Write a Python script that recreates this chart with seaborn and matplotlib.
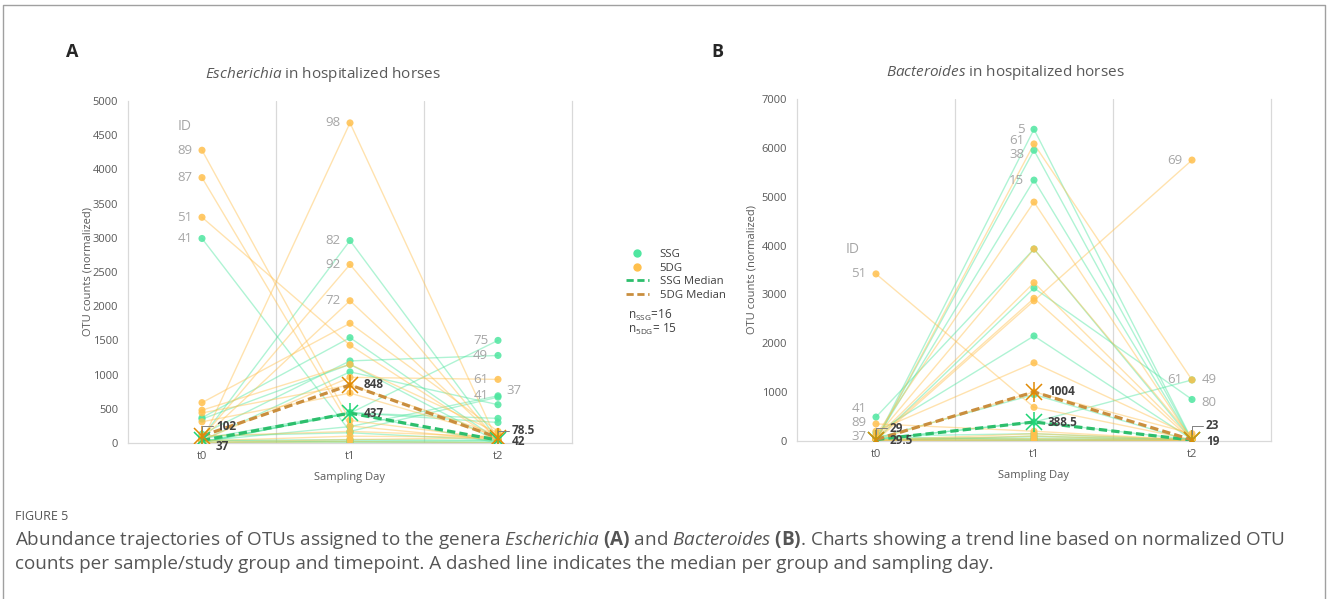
import numpy as np
import pandas as pd
import matplotlib
matplotlib.use("Agg")
import matplotlib.pyplot as plt
import seaborn as sns
from matplotlib.lines import Line2D

# ---- data ----
days = ["t0", "t1", "t2"]
groups = ["SSG", "5DG"]

# Escherichia, SSG horses
esch_ssg_ids = ["41", "82", "75", "49", "37", "", "", "", "", "", "", "", "", "", "", ""]
esch_ssg_t0 = [2990, 80, 20, 130, 30, 370, 350, 36, 10, 60, 5, 100, 37, 0, 15, 37]
esch_ssg_t1 = [170, 2960, 436, 1200, 240, 1540, 1150, 1040, 440, 445, 438, 150, 50, 30, 10, 20]
esch_ssg_t2 = [670, 43, 1500, 1280, 690, 41, 20, 560, 360, 300, 0, 40, 38, 30, 10, 5]

# Escherichia, 5DG horses
esch_dg_ids = ["89", "87", "51", "98", "92", "72", "61", "", "", "", "", "", "", "", ""]
esch_dg_t0 = [4280, 3880, 3300, 20, 80, 60, 40, 590, 480, 440, 310, 102, 30, 10, 0]
esch_dg_t1 = [330, 250, 1430, 4680, 2610, 2080, 960, 1750, 1150, 848, 730, 170, 100, 50, 20]
esch_dg_t2 = [60, 40, 30, 10, 20, 50, 930, 170, 150, 120, 100, 90, 85, 78.5, 5]

# Bacteroides, SSG horses
bact_ssg_ids = ["5", "38", "15", "41", "80", "37", "", "", "49", "", "", "", "", "", "", ""]
bact_ssg_t0 = [10, 0, 30, 490, 20, 170, 60, 29, 40, 100, 5, 50, 80, 15, 25, 28]
bact_ssg_t1 = [6380, 5950, 5340, 3930, 3130, 2150, 950, 390, 387, 150, 100, 60, 30, 20, 10, 5]
bact_ssg_t2 = [20, 10, 5, 17, 850, 30, 0, 25, 1250, 18, 22, 40, 8, 12, 35, 2]

# Bacteroides, 5DG horses
bact_dg_ids = ["51", "89", "61", "69", "", "", "", "", "", "", "", "", "", "", ""]
bact_dg_t0 = [3420, 350, 0, 5, 120, 80, 60, 40, 200, 29, 20, 15, 10, 3, 1]
bact_dg_t1 = [690, 200, 6080, 2870, 4890, 3930, 3240, 2920, 1600, 1004, 150, 100, 50, 20, 5]
bact_dg_t2 = [30, 20, 1250, 5750, 10, 60, 40, 15, 100, 150, 23, 8, 5, 2, 0]

# labelled horses: (id, day)
esch_labels = [("89", 0), ("87", 0), ("51", 0), ("41", 0),
               ("98", 1), ("92", 1), ("72", 1), ("82", 1),
               ("75", 2), ("49", 2), ("61", 2), ("41", 2), ("37", 2)]
bact_labels = [("51", 0), ("41", 0), ("89", 0), ("37", 0),
               ("5", 1), ("61", 1), ("38", 1), ("15", 1),
               ("69", 2), ("61", 2), ("49", 2), ("80", 2)]

n_ssg, n_dg = 16, 15

# ---- styling ----
GREEN = "#4FE6A0"
ORANGE = "#FFC04D"
MED_GREEN = "#2DBE6C"
MED_ORANGE = "#C98E3E"
STAR_GREEN = "#1ED475"
STAR_ORANGE = "#E08A05"
GRID = "#D9D9D9"
TXT = "#595959"
IDTXT = "#A6A6A6"
DASH = (0, (2.6, 1.3))

W, H = 1328, 599


def long_frame(ssg_ids, ssg_vals, dg_ids, dg_vals):
    rows = []
    for grp, ids, vals in (("SSG", ssg_ids, ssg_vals), ("5DG", dg_ids, dg_vals)):
        for i, hid in enumerate(ids):
            for d in range(3):
                rows.append({"horse": f"{grp}-{i}", "id": hid, "group": grp,
                             "day": d, "count": vals[d][i]})
    return pd.DataFrame(rows)


def draw_panel(ax, df, ymax, ystep, labels, nudges, med_layout):
    pal = {"SSG": GREEN, "5DG": ORANGE}
    sns.lineplot(data=df, x="day", y="count", hue="group", units="horse",
                 estimator=None, palette=pal, alpha=0.45, linewidth=1.0,
                 legend=False, sort=False, ax=ax, zorder=2)
    sns.scatterplot(data=df, x="day", y="count", hue="group", palette=pal,
                    s=26, alpha=0.85, linewidth=0, legend=False, ax=ax, zorder=3)
    sns.lineplot(data=df, x="day", y="count", hue="group", estimator="median",
                 errorbar=None, palette={"SSG": MED_GREEN, "5DG": MED_ORANGE},
                 linewidth=2.3, linestyle=DASH, legend=False, ax=ax, zorder=4)

    med = df.groupby(["group", "day"])["count"].median()
    for grp, col in (("SSG", STAR_GREEN), ("5DG", STAR_ORANGE)):
        for d in range(3):
            m = med[(grp, d)]
            ax.plot(d, m, marker="x", ms=11, mew=1.1, color=col, zorder=5)
            ax.plot(d, m, marker="|", ms=14, mew=1.1, color=col, zorder=5)
            dx, dy, leader = med_layout[(grp, d)]
            kw = dict(xy=(d, m), xytext=(dx, dy), textcoords="offset points",
                      fontsize=8.5, fontweight="bold", color="#404040",
                      va="center", ha="left", zorder=6)
            if leader:
                kw["arrowprops"] = dict(arrowstyle="-", color="#808080", lw=0.7,
                                        shrinkA=0, shrinkB=4,
                                        connectionstyle="angle,angleA=0,angleB=90,rad=0")
            ax.annotate(f"{m:g}", **kw)

    # ID labels
    for hid, d in labels:
        row = df[(df["id"] == hid) & (df["day"] == d)].iloc[0]
        dx, dy, ha = nudges.get((hid, d), (-7, 0, "right"))
        ax.annotate(hid, xy=(d, row["count"]), xytext=(dx, dy),
                    textcoords="offset points", fontsize=9.5, color=IDTXT,
                    ha=ha, va="center", zorder=6)

    ax.set_xlim(-0.5, 2.5)
    ax.set_ylim(0, ymax)
    ax.set_yticks(np.arange(0, ymax + 1, ystep))
    ax.set_xticks(range(3))
    ax.set_xticklabels(days)
    for x in (0.5, 1.5):
        ax.axvline(x, color=GRID, lw=0.9, zorder=1)
    for side in ("left", "right", "bottom"):
        ax.spines[side].set_color(GRID)
        ax.spines[side].set_linewidth(0.9)
    ax.spines["top"].set_visible(False)
    ax.tick_params(length=0, labelsize=8, colors=TXT)
    ax.tick_params(axis="y", pad=7)
    ax.tick_params(axis="x", pad=6)
    ax.set_xlabel("Sampling Day", fontsize=8, color=TXT)
    ax.set_ylabel("OTU counts (normalized)", fontsize=8, color=TXT)
    ax.xaxis.set_label_coords(0.5, -0.085)
    ax.grid(False)


sns.set_theme(style="white")
plt.rcParams["font.family"] = ["Open Sans", "DejaVu Sans"]
plt.rcParams["mathtext.fontset"] = "custom"
plt.rcParams["mathtext.rm"] = "Open Sans"
plt.rcParams["mathtext.it"] = "Open Sans:italic"
plt.rcParams["mathtext.bf"] = "Open Sans:bold"

esch = long_frame(esch_ssg_ids, (esch_ssg_t0, esch_ssg_t1, esch_ssg_t2),
                  esch_dg_ids, (esch_dg_t0, esch_dg_t1, esch_dg_t2))
bact = long_frame(bact_ssg_ids, (bact_ssg_t0, bact_ssg_t1, bact_ssg_t2),
                  bact_dg_ids, (bact_dg_t0, bact_dg_t1, bact_dg_t2))

fig = plt.figure(figsize=(W / 100, H / 100), dpi=100)
axA = fig.add_axes([128 / W, 1 - 443 / H, 444 / W, 342 / H])
axB = fig.add_axes([797 / W, 1 - 441 / H, 474 / W, 342 / H])

draw_panel(axA, esch, 5000, 500, esch_labels,
           {("37", 2): (6, 4, "left"), ("41", 2): (-7, 1, "right")},
           {("5DG", 0): (10, 7, True), ("SSG", 0): (10, -4, False),
            ("5DG", 1): (10, 0, False), ("SSG", 1): (10, 0, False),
            ("5DG", 2): (10, 5, True), ("SSG", 2): (10, -1, False)})
draw_panel(axB, bact, 7000, 1000, bact_labels,
           {("41", 0): (-7, 6, "right"), ("89", 0): (-7, 1, "right"),
            ("37", 0): (-7, -2.5, "right"),
            ("61", 1): (-7, 2.4, "right"), ("38", 1): (-7, -3, "right"),
            ("49", 2): (7, 0, "left"), ("80", 2): (7, -2, "left")},
           {("5DG", 0): (10, 8, True), ("SSG", 0): (10, -1, False),
            ("5DG", 1): (10, 0, False), ("SSG", 1): (10, 0, False),
            ("5DG", 2): (10, 10, True), ("SSG", 2): (10, -1, False)})

axA.yaxis.set_label_coords(-0.078, 0.5)
axB.yaxis.set_label_coords(-0.084, 0.5)

# "ID" headers
axA.text(-0.115, 4620, "ID", fontsize=10, color=IDTXT, ha="center", va="center")
axB.text(-0.15, 3910, "ID", fontsize=10, color=IDTXT, ha="center", va="center")

# titles and panel letters
fig.text(323 / W, 1 - 75 / H, r"$\it{Escherichia}$ in hospitalized horses",
         fontsize=11, color=TXT, ha="center", va="center")
fig.text(1005 / W, 1 - 73 / H, r"$\it{Bacteroides}$ in hospitalized horses",
         fontsize=11, color=TXT, ha="center", va="center")
fig.text(72 / W, 1 - 52 / H, "A", fontsize=13, fontweight="bold", ha="center", va="center")
fig.text(717 / W, 1 - 52 / H, "B", fontsize=13, fontweight="bold", ha="center", va="center")

# legend
handles = [
    Line2D([], [], ls="none", marker="o", ms=5, color=GREEN),
    Line2D([], [], ls="none", marker="o", ms=5, color=ORANGE),
    Line2D([], [], color=MED_GREEN, lw=2, ls=DASH),
    Line2D([], [], color=MED_ORANGE, lw=2, ls=DASH),
]
leg = fig.legend(handles, ["SSG", "5DG", "SSG Median", "5DG Median"],
                 loc="upper left", bbox_to_anchor=(626 / W, 1 - 249 / H),
                 frameon=False, fontsize=8.2, handlelength=2.0, handletextpad=0.95,
                 labelspacing=0.22, borderaxespad=0, borderpad=0)
for t in leg.get_texts():
    t.set_color("#404040")
fig.text(628 / W, 1 - 315 / H, r"n$_{\mathrm{SSG}}$=" + str(n_ssg), fontsize=8.5,
         color="#404040", va="center")
fig.text(628 / W, 1 - 329 / H, r"n$_{\mathrm{5DG}}$= " + str(n_dg), fontsize=8.5,
         color="#404040", va="center")

# caption
fig.text(15 / W, 1 - 516 / H, "FIGURE 5", fontsize=9, color="#555555", va="center")
fig.text(15 / W, 1 - 540 / H,
         r"Abundance trajectories of OTUs assigned to the genera $\it{Escherichia}$ $\bf{(A)}$ "
         r"and $\it{Bacteroides}$ $\bf{(B)}$. Charts showing a trend line based on normalized OTU",
         fontsize=13.6, color="#555555", va="center")
fig.text(15 / W, 1 - 564 / H,
         "counts per sample/study group and timepoint. A dashed line indicates the median "
         "per group and sampling day.",
         fontsize=13.6, color="#555555", va="center")

# frame around the figure
fig.add_artist(Line2D([3 / W, 3 / W, 1325 / W, 1325 / W], [0, 1 - 5 / H, 1 - 5 / H, 0],
                      transform=fig.transFigure, color="#A0A0A0", lw=1))

fig.savefig("out.png", dpi=100)
